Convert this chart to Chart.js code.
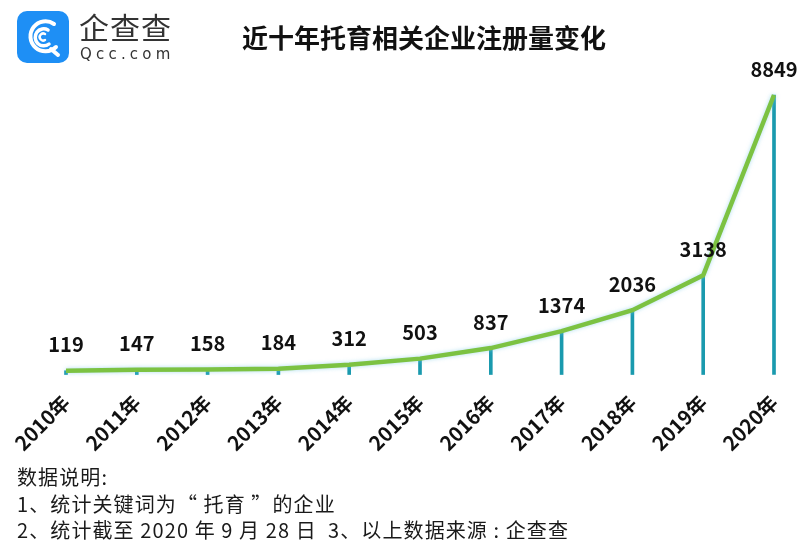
<!DOCTYPE html>
<html>
<head>
<meta charset="utf-8">
<script src="https://cdn.jsdelivr.net/npm/chart.js@4/dist/chart.umd.min.js"></script>
<style>
  body { margin: 0; background: #fff; font-family: "Noto Sans CJK SC", sans-serif; }
  #wrap { position: relative; width: 806px; height: 549px; overflow: hidden; }
  #chart { position: absolute; left: 0; top: 0; }
  .logo { position: absolute; left: 17px; top: 11px; }
  .brand { position: absolute; left: 79px; top: 4px; font-size: 30px; color: #333; font-weight: 400; letter-spacing: 1px; }
  .brand-en { position: absolute; left: 80px; top: 45px; font-size: 15px; color: #333; letter-spacing: 4.2px; font-family: "DejaVu Sans", sans-serif; }
  .title { position: absolute; left: 0; width: 848px; top: 18px; text-align: center; font-size: 26px; font-weight: 700; color: #111; }
  .notes { position: absolute; left: 17px; top: 464px; font-size: 20px; line-height: 26.5px; letter-spacing: 1.1px; color: #1a1a1a; }
</style>
</head>
<body>
<div id="wrap">
  <canvas id="chart" width="806" height="549"></canvas>
  <svg class="logo" width="52" height="52" viewBox="0 0 52 52">
    <rect x="0" y="0" width="52" height="52" rx="10" fill="#1e8ff5"/>
    <path d="M37 13 A15 15 0 1 0 39 36" fill="none" stroke="#fff" stroke-width="4" stroke-linecap="round"/>
    <path d="M31 19 A8.5 8.5 0 1 0 32 33" fill="none" stroke="#fff" stroke-width="3.5" stroke-linecap="round"/>
    <path d="M28 23 A3.5 3.5 0 1 0 28 29" fill="none" stroke="#fff" stroke-width="2.5" stroke-linecap="round"/>
    <path d="M34 38 L41 44" fill="none" stroke="#fff" stroke-width="4" stroke-linecap="round"/>
  </svg>
  <div class="brand">企查查</div>
  <div class="brand-en">Qcc.com</div>
  <div class="title">近十年托育相关企业注册量变化</div>
  <div class="notes">
    数据说明:<br>
    1、统计关键词为“ 托育 ”的企业<br>
    2、统计截至 2020 年 9 月 28 日&nbsp; 3、以上数据来源 : 企查查
  </div>
</div>
<script>
const years = ['2010年', '2011年', '2012年', '2013年', '2014年', '2015年', '2016年', '2017年', '2018年', '2019年', '2020年'];
const registrations = [119, 147, 158, 184, 312, 503, 837, 1374, 2036, 3138, 8849];

const lineColor = '#7cc242';
const dropColor = '#1a9aae';

// value labels above each point of the line
const valueLabels = {
  id: 'valueLabels',
  afterDatasetsDraw(chart) {
    const ctx = chart.ctx;
    const meta = chart.getDatasetMeta(1);
    ctx.save();
    ctx.font = 'bold 20px "Noto Sans CJK SC", sans-serif';
    ctx.fillStyle = '#111';
    ctx.textAlign = 'center';
    ctx.textBaseline = 'bottom';
    meta.data.forEach((pt, i) => {
      ctx.fillText(String(registrations[i]), pt.x, pt.y - 16);
    });
    ctx.restore();
  }
};

// soft glow under the green line
const lineGlow = {
  id: 'lineGlow',
  beforeDatasetDraw(chart, args) {
    if (args.index !== 1) return;
    chart.ctx.save();
    chart.ctx.shadowColor = 'rgba(120, 200, 230, 0.6)';
    chart.ctx.shadowBlur = 4;
  },
  afterDatasetDraw(chart, args) {
    if (args.index !== 1) return;
    chart.ctx.restore();
  }
};

new Chart(document.getElementById('chart'), {
  type: 'line',
  data: {
    labels: years,
    datasets: [
      {
        type: 'bar',
        data: registrations,
        backgroundColor: dropColor,
        barThickness: 3,
        clip: false,
        order: 2
      },
      {
        type: 'line',
        data: registrations,
        borderColor: lineColor,
        borderWidth: 4.5,
        pointRadius: 0,
        tension: 0,
        fill: false,
        clip: false,
        order: 1
      }
    ]
  },
  options: {
    responsive: false,
    animation: false,
    layout: { padding: { left: 66, right: 32, top: 95, bottom: 86 } },
    plugins: {
      legend: { display: false },
      tooltip: { enabled: false }
    },
    scales: {
      x: {
        offset: false,
        grid: { display: false },
        border: { display: false },
        ticks: {
          minRotation: 45,
          maxRotation: 45,
          padding: 8,
          color: '#111',
          font: { size: 20, weight: 'bold', family: '"Noto Sans CJK SC", sans-serif' }
        }
      },
      y: {
        display: false,
        min: 0,
        max: 8849
      }
    }
  },
  plugins: [valueLabels, lineGlow]
});
</script>
</body>
</html>
